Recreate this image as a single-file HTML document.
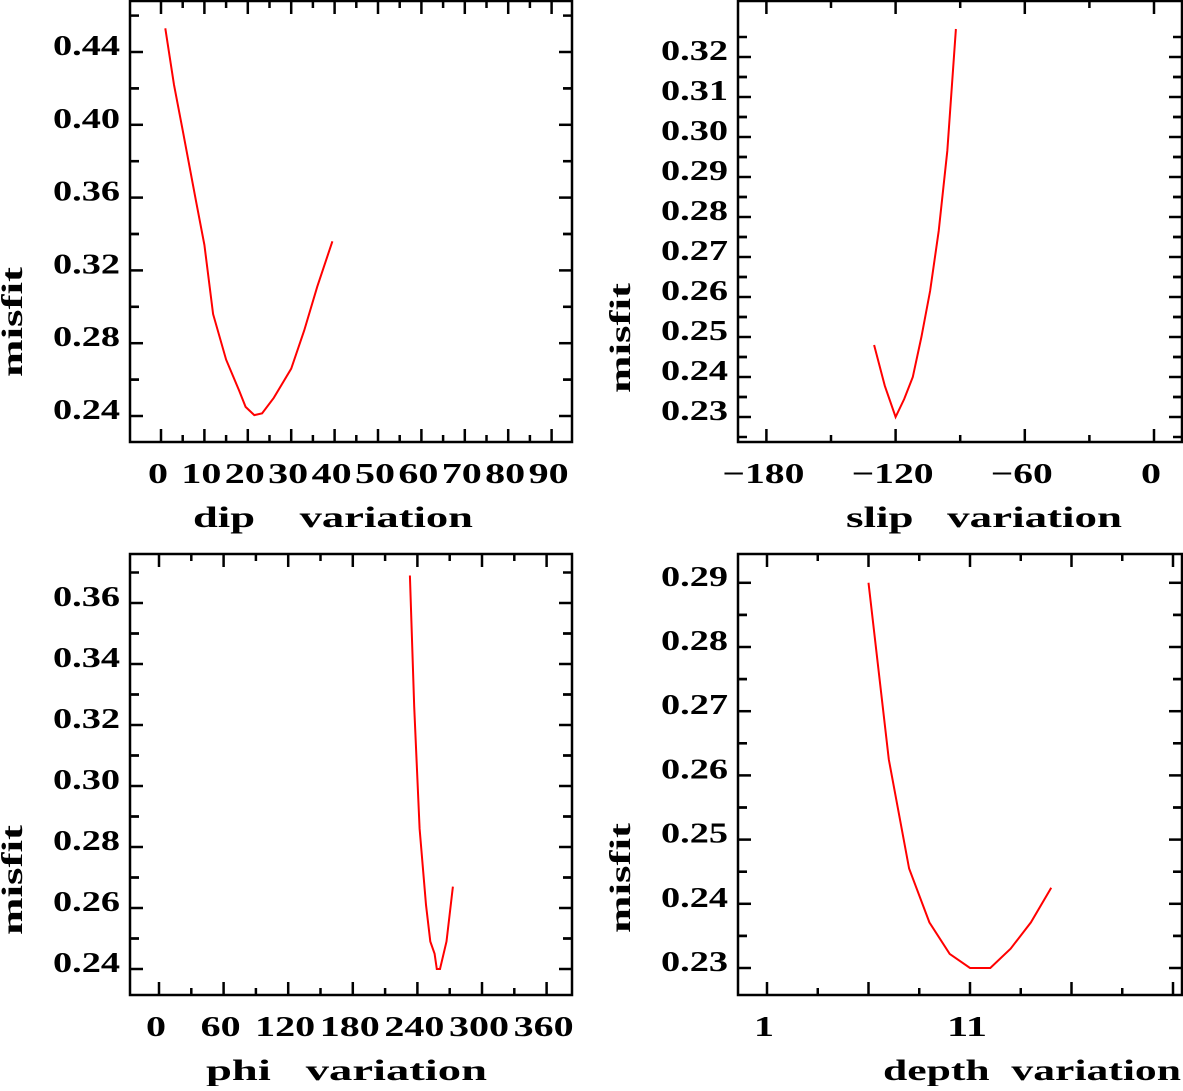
<!DOCTYPE html>
<html><head><meta charset="utf-8"><style>
html,body{margin:0;padding:0;background:#fff;}
svg text{font-family:"Liberation Serif",serif;font-weight:bold;fill:#000;}
</style></head><body>
<svg id="c" width="1183" height="1086" xmlns="http://www.w3.org/2000/svg"></svg>
<script>
// Panel 1: dip
const dipX = [1,3,5,8,10,12,15,18,19.5,21.5,23.3,26,30,33,36,39.5];
const dipY = [0.453,0.422,0.397,0.359,0.334,0.296,0.271,0.254,0.245,0.2405,0.2415,0.25,0.266,0.287,0.311,0.336];
const dipYTicks = ["0.24","0.28","0.32","0.36","0.40","0.44"];
const dipXTicks = ["0","10","20","30","40","50","60","70","80","90"];
// Panel 2: slip
const slipX = [-130,-125,-120,-116,-112,-108,-104,-100,-96,-92];
const slipY = [0.248,0.2378,0.23,0.2345,0.240,0.250,0.2615,0.2765,0.2965,0.327];
const slipYTicks = ["0.23","0.24","0.25","0.26","0.27","0.28","0.29","0.30","0.31","0.32"];
const slipXTicks = ["\u2212180","\u2212120","\u221260","0"];
// Panel 3: phi
const phiX = [233,237,242,248,252,256,258,261,267,273];
const phiY = [0.369,0.326,0.286,0.261,0.249,0.245,0.24,0.24,0.249,0.267];
const phiYTicks = ["0.24","0.26","0.28","0.30","0.32","0.34","0.36"];
const phiXTicks = ["0","60","120","180","240","300","360"];
// Panel 4: depth
const depX = [6,7,8,9,10,11,12,13,14,15];
const depY = [0.29,0.2625,0.2455,0.2371,0.2322,0.23,0.23,0.233,0.2371,0.2425];
const depYTicks = ["0.23","0.24","0.25","0.26","0.27","0.28","0.29"];
const depXTicks = ["1","11"];

const NS="http://www.w3.org/2000/svg";
const svg=document.getElementById('c');
function mk(tag,attrs,parent){const e=document.createElementNS(NS,tag);for(const k in attrs)e.setAttribute(k,attrs[k]);(parent||svg).appendChild(e);return e;}

function panel(p){
  const g=mk('g',{});
  
  
  const sx=v=>p.x0px+(v-p.xv0)*p.xpx;
  const sy=v=>p.y0px-(v-p.yv0)*p.ypx;
  const fr=mk('rect',{x:p.L,y:p.T,width:p.R-p.L,height:p.B-p.T,fill:'none',stroke:'#000','stroke-width':2.5},g);
  
  
  const ys=[];
  for(let i=0;i<p.yTicks.length;i++){
    const v=parseFloat(p.yTicks[i]);
    ys.push([v,true]);ys.push([v+p.yStep/2,false]);ys.push([v-p.yStep/2,false]);
  }
  ys.forEach(([v,maj])=>{
    const y=sy(v); if(y<p.T+2||y>p.B-2) return;
    const len=maj?13:9;
    mk('line',{x1:p.L,x2:p.L+len,y1:y,y2:y,stroke:'#000','stroke-width':2.5},g);
    mk('line',{x1:p.R,x2:p.R-len,y1:y,y2:y,stroke:'#000','stroke-width':2.5},g);
  });
  p.yTicks.forEach(t=>{
    const y=sy(parseFloat(t));
    const tx=mk('text',{x:p.L-10,y:y+3,'text-anchor':'end','font-size':29,textLength:67,lengthAdjust:'spacingAndGlyphs'},g);
    tx.textContent=t;
    
    
  });
  for(let v=p.xMin;v<=p.xMax+1e-9;v+=p.xStep/2){
    const x=sx(v); if(x<p.L+2||x>p.R-2) continue;
    const maj=Math.abs(((v-p.xMin)/p.xStep)-Math.round((v-p.xMin)/p.xStep))<1e-6;
    const len=maj?13:7;
    mk('line',{x1:x,x2:x,y1:p.B,y2:p.B-len,stroke:'#000','stroke-width':2.5},g);
    mk('line',{x1:x,x2:x,y1:p.T,y2:p.T+len,stroke:'#000','stroke-width':2.5},g);
  }
  p.xTicks.forEach(t=>{
    const v=parseFloat(t.replace('\u2212','-'));
    const neg=t.charAt(0)==='\u2212';
    const w=(neg?t.length-1:t.length)*20+(neg?22:0);
    const tx=mk('text',{x:sx(v)-3,y:p.B+41,'text-anchor':'middle','font-size':29,textLength:w,lengthAdjust:'spacingAndGlyphs'},g);
    tx.textContent=t;
    
    
  });
  const pts=p.xs.map((v,i)=>sx(v).toFixed(1)+','+sy(p.ys[i]).toFixed(1)).join(' ');
  const pl=mk('polyline',{points:pts,fill:'none',stroke:'#ff0000','stroke-width':2},g);
  
  
  const yt=mk('text',{x:0,y:0,'font-size':30,'text-anchor':'middle',textLength:110,lengthAdjust:'spacingAndGlyphs',transform:`translate(${p.ytx},${p.yty}) rotate(-90)`},g);
  yt.textContent='misfit';
  
  
  const xt=mk('text',{x:p.xtx,y:p.B+85,'font-size':30,textLength:p.xtw,lengthAdjust:'spacingAndGlyphs','xml:space':'preserve'},g);
  xt.setAttribute('style','white-space:pre');
  xt.textContent=p.xtitle;
  
  
}

panel({name:'dip',L:130,R:572,T:1,B:442,x0px:161,xv0:0,xpx:4.34,y0px:416,yv0:0.24,ypx:1820,
  yTicks:dipYTicks,yStep:0.04,xTicks:dipXTicks,xMin:0,xMax:90,xStep:10,xs:dipX,ys:dipY,
  ytx:22,yty:322,xtx:193,xtw:280,xtitle:'dip    variation'});
panel({name:'slip',L:738,R:1182,T:1,B:442,x0px:1154,xv0:0,xpx:129.2/60,y0px:417,yv0:0.23,ypx:4000,
  yTicks:slipYTicks,yStep:0.01,xTicks:slipXTicks,xMin:-180,xMax:0,xStep:60,xs:slipX,ys:slipY,
  ytx:630,yty:338,xtx:846,xtw:276,xtitle:'slip   variation'});
panel({name:'phi',L:130,R:572,T:554,B:995,x0px:159,xv0:0,xpx:64.6/60,y0px:969,yv0:0.24,ypx:3050,
  yTicks:phiYTicks,yStep:0.02,xTicks:phiXTicks,xMin:0,xMax:360,xStep:60,xs:phiX,ys:phiY,
  ytx:22,yty:880,xtx:206,xtw:281,xtitle:'phi   variation'});
panel({name:'depth',L:738,R:1182,T:554,B:995,x0px:767,xv0:1,xpx:20.3,y0px:968,yv0:0.23,ypx:6420,
  yTicks:depYTicks,yStep:0.01,xTicks:depXTicks,xMin:1,xMax:21,xStep:5,xs:depX,ys:depY,
  ytx:630,yty:878,xtx:883,xtw:298,xtitle:'depth  variation'});
</script>
</body></html>
